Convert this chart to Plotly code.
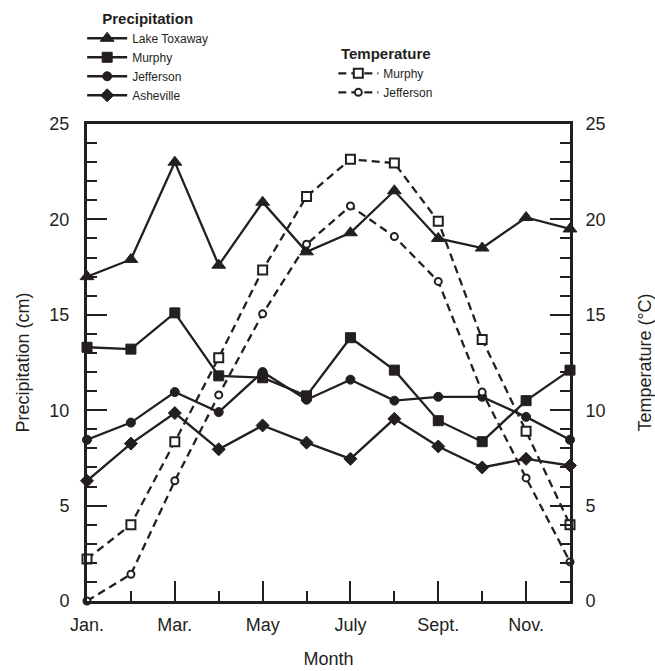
import plotly.graph_objects as go

months = list(range(1, 13))
tick_vals = [1, 3, 5, 7, 9, 11]
tick_text = ["Jan.", "Mar.", "May", "July", "Sept.", "Nov."]

precip_lake_toxaway = [17.0, 17.9, 23.0, 17.6, 20.9, 18.3, 19.3, 21.5, 19.0, 18.5, 20.1, 19.5]
precip_murphy = [13.3, 13.2, 15.1, 11.8, 11.7, 10.75, 13.8, 12.1, 9.45, 8.35, 10.5, 12.1]
precip_jefferson = [8.45, 9.35, 10.95, 9.9, 12.0, 10.55, 11.6, 10.5, 10.7, 10.7, 9.65, 8.45]
precip_asheville = [6.3, 8.25, 9.85, 7.95, 9.2, 8.3, 7.45, 9.55, 8.1, 7.0, 7.45, 7.1]

temp_murphy = [2.2, 4.0, 8.35, 12.75, 17.35, 21.2, 23.15, 22.95, 19.9, 13.7, 8.9, 4.0]
temp_jefferson = [0.0, 1.4, 6.3, 10.8, 15.05, 18.7, 20.7, 19.1, 16.75, 10.95, 6.45, 2.05]

INK = "#231f20"
FONT = "Liberation Sans, Arial, sans-serif"

fig = go.Figure()

precip = [
    ("Lake Toxaway", precip_lake_toxaway, "triangle-up", 12),
    ("Murphy", precip_murphy, "square", 10),
    ("Jefferson", precip_jefferson, "circle", 9),
    ("Asheville", precip_asheville, "diamond", 10),
]
for name, vals, sym, size in precip:
    fig.add_trace(go.Scatter(
        x=months, y=vals, name=name, mode="lines+markers",
        line=dict(color=INK, width=2.3),
        marker=dict(symbol=sym, size=size, color=INK, line=dict(color=INK, width=1)),
        cliponaxis=False, legend="legend", yaxis="y",
    ))

temps = [
    ("Murphy", temp_murphy, "square", 9),
    ("Jefferson", temp_jefferson, "circle", 7),
]
for name, vals, sym, size in temps:
    fig.add_trace(go.Scatter(
        x=months, y=vals, name=name, mode="lines+markers",
        line=dict(color=INK, width=2.3, dash="8px,5px"),
        marker=dict(symbol=sym, size=size, color="white", line=dict(color=INK, width=2)),
        cliponaxis=False, legend="legend2", yaxis="y2",
    ))

axis_font = dict(family=FONT, size=18, color=INK)
title_font = dict(family=FONT, size=18, color=INK)

common_y = dict(
    range=[0, 25], tickmode="linear", tick0=0, dtick=5,
    ticks="inside", ticklen=20, tickwidth=2, tickcolor=INK,
    minor=dict(ticks="inside", ticklen=10, tickwidth=2, tickcolor=INK, dtick=1),
    showline=True, linewidth=3, linecolor=INK,
    showgrid=False, zeroline=False, tickfont=axis_font, automargin=False,
)

fig.update_layout(
    width=655, height=671,
    margin=dict(l=87, r=85, t=124, b=70, autoexpand=False),
    paper_bgcolor="white", plot_bgcolor="white",
    font=dict(family=FONT, color=INK),
    showlegend=True,
    xaxis=dict(
        range=[1, 12], tickmode="array", tickvals=tick_vals, ticktext=tick_text,
        ticks="inside", ticklen=20, tickwidth=2, tickcolor=INK,
        minor=dict(ticks="inside", ticklen=10, tickwidth=2, tickcolor=INK,
                   tickmode="linear", tick0=1, dtick=1),
        showline=True, linewidth=3, linecolor=INK, mirror=True,
        showgrid=False, zeroline=False, tickfont=axis_font, automargin=False,
        ticklabelstandoff=5,
        title=dict(text="Month", font=title_font, standoff=19),
    ),
    yaxis=dict(
        **common_y, ticklabelstandoff=11,
        title=dict(text="Precipitation (cm)", font=title_font, standoff=16),
    ),
    yaxis2=dict(
        **common_y, overlaying="y", side="right", ticklabelstandoff=9,
        title=dict(text="Temperature (°C)", font=title_font, standoff=36),
    ),
    legend=dict(
        title=dict(text="<b>Precipitation</b>", side="top center", font=dict(family=FONT, size=15, color=INK)),
        x=-0.01, y=1.251, xanchor="left", yanchor="top",
        font=dict(family=FONT, size=12, color=INK),
        bgcolor="rgba(0,0,0,0)", tracegroupgap=0, itemwidth=40,
    ),
    legend2=dict(
        title=dict(text="<b>Temperature</b>", side="top center", font=dict(family=FONT, size=15, color=INK)),
        x=0.51, y=1.1775, xanchor="left", yanchor="top",
        font=dict(family=FONT, size=12, color=INK),
        bgcolor="rgba(0,0,0,0)", tracegroupgap=0, itemwidth=40,
    ),
)

fig.write_html(
    "out.html",
    config={"displayModeBar": False},
    post_script="document.body.style.margin='0';document.body.style.overflow='hidden';",
)
